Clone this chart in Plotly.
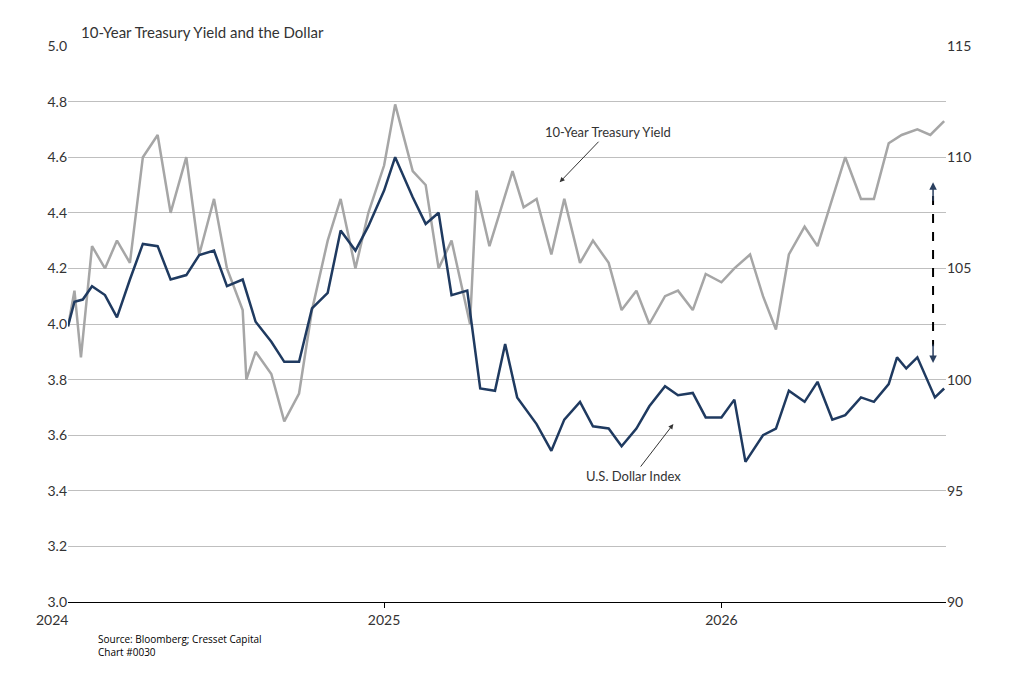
import plotly.graph_objects as go

yield_dates = ['2024-01-25', '2024-02-01', '2024-02-08', '2024-02-20', '2024-03-05', '2024-03-18',
               '2024-04-01', '2024-04-15', '2024-05-01', '2024-05-15', '2024-06-01', '2024-06-15',
               '2024-07-01', '2024-07-15', '2024-08-01', '2024-08-05', '2024-08-15', '2024-09-01',
               '2024-09-15', '2024-10-01', '2024-10-15', '2024-11-01', '2024-11-15', '2024-12-01',
               '2024-12-15', '2025-01-01', '2025-01-13', '2025-02-01', '2025-02-15', '2025-03-01',
               '2025-03-15', '2025-04-04', '2025-04-11', '2025-04-25', '2025-05-20', '2025-06-01',
               '2025-06-15', '2025-07-01', '2025-07-15', '2025-08-01', '2025-08-15', '2025-09-01',
               '2025-09-15', '2025-10-01', '2025-10-15', '2025-11-01', '2025-11-15', '2025-12-01',
               '2025-12-15', '2026-01-01', '2026-01-15', '2026-02-01', '2026-02-15', '2026-03-01',
               '2026-03-15', '2026-04-01', '2026-04-15', '2026-05-01', '2026-05-15', '2026-06-01',
               '2026-06-15', '2026-07-01', '2026-07-15', '2026-08-01', '2026-08-15', '2026-08-30']
yield_values = [3.99, 4.12, 3.88, 4.28, 4.20, 4.30, 4.22, 4.60, 4.68, 4.40, 4.60, 4.25,
                4.45, 4.20, 4.05, 3.80, 3.90, 3.82, 3.65, 3.75, 4.05, 4.30, 4.45, 4.20,
                4.40, 4.57, 4.79, 4.55, 4.50, 4.20, 4.30, 4.00, 4.48, 4.28, 4.55, 4.42,
                4.45, 4.25, 4.45, 4.22, 4.30, 4.22, 4.05, 4.12, 4.00, 4.10, 4.12, 4.05,
                4.18, 4.15, 4.20, 4.25, 4.10, 3.98, 4.25, 4.35, 4.28, 4.45, 4.60, 4.45,
                4.45, 4.65, 4.68, 4.70, 4.68, 4.73]

dollar_dates = ['2024-01-25', '2024-02-01', '2024-02-10', '2024-02-20', '2024-03-05', '2024-03-18',
                '2024-04-01', '2024-04-15', '2024-05-01', '2024-05-15', '2024-06-01', '2024-06-15',
                '2024-07-01', '2024-07-15', '2024-08-01', '2024-08-15', '2024-09-01', '2024-09-15',
                '2024-10-01', '2024-10-15', '2024-11-01', '2024-11-15', '2024-12-01', '2024-12-15',
                '2025-01-01', '2025-01-13', '2025-02-01', '2025-02-15', '2025-03-01', '2025-03-15',
                '2025-04-01', '2025-04-15', '2025-05-01', '2025-05-12', '2025-05-25', '2025-06-15',
                '2025-07-01', '2025-07-15', '2025-08-01', '2025-08-15', '2025-09-01', '2025-09-15',
                '2025-10-01', '2025-10-15', '2025-11-01', '2025-11-15', '2025-12-01', '2025-12-15',
                '2026-01-01', '2026-01-15', '2026-01-27', '2026-02-15', '2026-03-01', '2026-03-15',
                '2026-04-01', '2026-04-15', '2026-05-01', '2026-05-15', '2026-06-01', '2026-06-15',
                '2026-07-01', '2026-07-10', '2026-07-20', '2026-08-01', '2026-08-20', '2026-08-30']
dollar_values = [102.4, 103.5, 103.6, 104.2, 103.8, 102.8, 104.5, 106.1, 106.0, 104.5, 104.7, 105.6,
                 105.8, 104.2, 104.5, 102.6, 101.7, 100.8, 100.8, 103.2, 103.9, 106.7, 105.8, 106.9,
                 108.5, 110.0, 108.2, 107.0, 107.5, 103.8, 104.0, 99.6, 99.5, 101.6, 99.2, 98.0,
                 96.8, 98.2, 99.0, 97.9, 97.8, 97.0, 97.8, 98.8, 99.7, 99.3, 99.4, 98.3,
                 98.3, 99.1, 96.3, 97.5, 97.8, 99.5, 99.0, 99.9, 98.2, 98.4, 99.2, 99.0,
                 99.8, 101.0, 100.5, 101.0, 99.2, 99.6]

FONT = 'Lato'

fig = go.Figure()
fig.add_trace(go.Scatter(x=yield_dates, y=yield_values, mode='lines',
                         line=dict(color='#a6a6a6', width=2.5), name='10-Year Treasury Yield'))
fig.add_trace(go.Scatter(x=dollar_dates, y=dollar_values, mode='lines', yaxis='y2',
                         line=dict(color='#1f3a60', width=2.5), name='U.S. Dollar Index'))

fig.update_layout(
    width=1024, height=696,
    margin=dict(l=60, r=86, t=38, b=102),
    plot_bgcolor='white', paper_bgcolor='white',
    showlegend=False,
    font=dict(family=FONT, size=14, color='#333333'),
    xaxis=dict(range=['2024-01-25', '2026-09-01'], tickvals=['2025-01-01', '2026-01-01'],
               ticktext=['2025', '2026'], showgrid=False, showline=True, linecolor='black',
               ticks='outside', ticklen=5, tickcolor='black'),
    yaxis=dict(range=[3.0, 5.0], dtick=0.2, tickformat='.1f', gridcolor='#bfbfbf', zeroline=False),
    yaxis2=dict(range=[90, 115], dtick=5, overlaying='y', side='right', showgrid=False, zeroline=False),
)

fig.add_annotation(xref='paper', yref='paper', x=-0.018, y=-0.012, xanchor='center', yanchor='top',
                   text='2024', showarrow=False)
fig.add_annotation(xref='paper', yref='paper', x=0.013, y=1.005, xanchor='left', yanchor='bottom',
                   text='10-Year Treasury Yield and the Dollar', showarrow=False, font=dict(size=15))
fig.add_annotation(xref='paper', yref='paper', x=0.032, y=-0.05, xanchor='left', yanchor='top', align='left',
                   text='Source: Bloomberg; Cresset Capital<br>Chart #0030', showarrow=False,
                   font=dict(family='Open Sans', size=10, color='black'))
fig.add_annotation(x='2025-07-10', y=4.51, ax=48, ay=-50, text='10-Year Treasury Yield', showarrow=True,
                   arrowhead=2, arrowwidth=1, arrowcolor='#333333', font=dict(size=13))
fig.add_annotation(x='2025-11-10', y=3.64, ax=-40, ay=52, text='U.S. Dollar Index', showarrow=True,
                   arrowhead=2, arrowwidth=1, arrowcolor='#333333', font=dict(size=13))
fig.add_shape(type='line', x0='2026-08-18', x1='2026-08-18', y0=4.46, y1=3.92,
              line=dict(color='black', width=2, dash='dash'))
fig.add_annotation(x='2026-08-18', y=4.51, ax=0, ay=20, text='', showarrow=True, arrowhead=2, arrowwidth=1.5)
fig.add_annotation(x='2026-08-18', y=3.86, ax=0, ay=-20, text='', showarrow=True, arrowhead=2, arrowwidth=1.5)

fig.write_html('out.html')
